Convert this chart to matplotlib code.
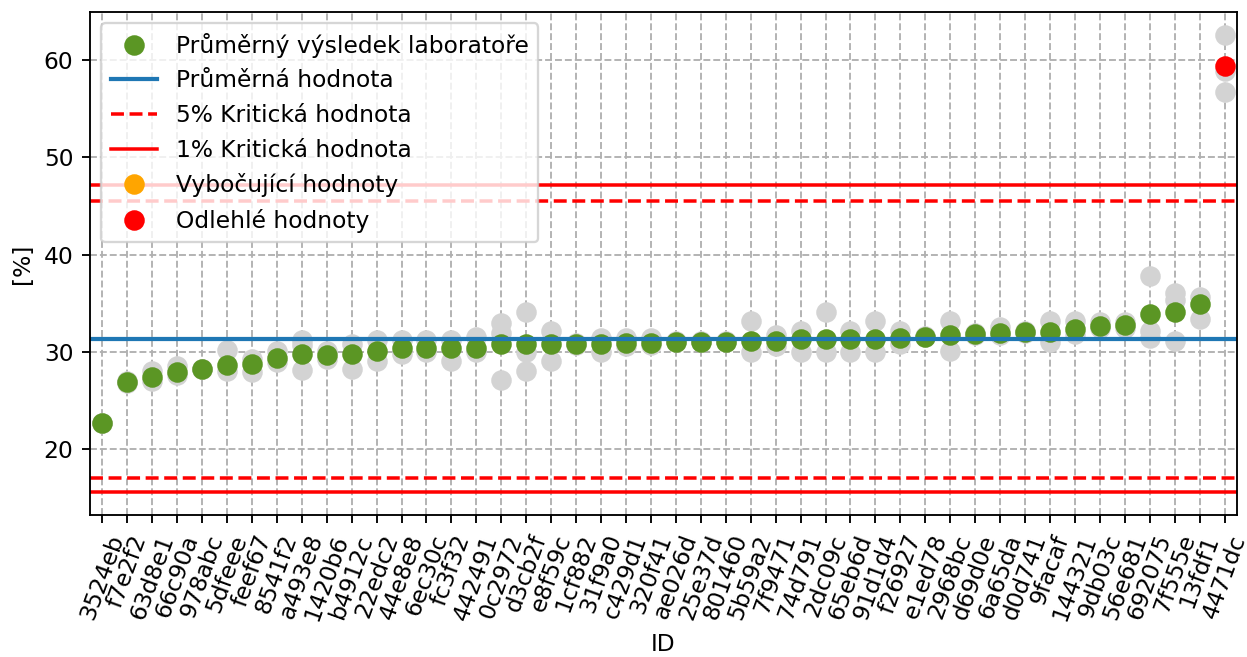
import matplotlib
matplotlib.use('Agg')
import matplotlib.pyplot as plt

ids = ['3524eb', 'f7e2f2', '63d8e1', '66c90a', '978abc', '5dfeee', 'feef67', '8541f2',
       'a493e8', '1420b6', 'b4912c', '22edc2', '44e8e8', '6ec30c', 'fc3f32', '442491',
       '0c2972', 'd3cb2f', 'e8f59c', '1cf882', '31f9a0', 'c429d1', '320f41', 'ae026d',
       '25e37d', '801460', '5b59a2', '7f9471', '74d791', '2dc09c', '65eb6d', '91d1d4',
       'f26927', 'e1ed78', '2968bc', 'd69d0e', '6a65da', 'd0d741', '9facaf', '144321',
       '9db03c', '56e681', '692075', '7f555e', '13fdf1', '4471dc']

# laboratory means
means = [22.7, 26.9, 27.4, 28.0, 28.3, 28.7, 28.8, 29.4, 29.8, 29.7, 29.8, 30.1,
         30.4, 30.4, 30.4, 30.4, 30.8, 30.8, 30.8, 30.8, 30.8, 30.9, 30.9, 31.0,
         31.0, 31.0, 31.1, 31.1, 31.3, 31.3, 31.3, 31.3, 31.4, 31.5, 31.7, 31.9,
         32.0, 32.1, 32.1, 32.4, 32.7, 32.8, 33.9, 34.1, 34.9, 59.4]

# individual results
results = [[22.7, 22.7], [26.8, 27.0], [28.1, 27.0], [28.6, 27.6], [28.3, 28.3],
           [30.2, 28.1], [29.3, 27.9], [30.1, 29.0], [31.2, 30.7, 28.2], [30.1, 29.3],
           [30.8, 28.3], [31.2, 29.1], [31.2, 29.8], [31.2, 30.0], [31.2, 29.1],
           [31.5, 30.0], [33.0, 32.0, 27.1], [34.1, 30.0, 28.1], [32.2, 29.1],
           [30.9, 30.7], [31.4, 30.0], [31.4, 30.6], [31.4, 30.7], [31.1, 31.0],
           [31.1, 31.0], [31.1, 31.0], [33.2, 30.0], [31.7, 30.6], [32.2, 30.0],
           [34.1, 30.0], [32.2, 30.0], [33.2, 30.0], [32.2, 30.8], [31.6, 31.5],
           [33.2, 30.1], [32.0, 31.7], [32.6, 31.7], [32.2, 32.0], [33.2, 31.0],
           [33.2, 31.9], [33.1, 32.5], [33.1, 32.5], [37.8, 32.2, 31.4],
           [36.1, 35.3, 31.1], [35.7, 33.4], [62.6, 58.9, 56.7]]

outliers = ['4471dc']
mean_value = 31.3
crit5 = [17.1, 45.5]
crit1 = [15.6, 47.2]

dpi = 168
fig, ax = plt.subplots(figsize=(1247 / dpi, 657 / dpi), dpi=dpi)
fig.subplots_adjust(left=0.072, right=0.992, top=0.982, bottom=0.216)

for i, vals in enumerate(results):
    ax.plot([i] * len(vals), vals, 'o', color='lightgrey', ms=7.8)

normal = [i for i, n in enumerate(ids) if n not in outliers]
odd = [i for i, n in enumerate(ids) if n in outliers]
ax.plot(normal, [means[i] for i in normal], 'o', color='#5b9624', ms=7.8,
        label='Průměrný výsledek laboratoře')

ax.axhline(mean_value, color='tab:blue', lw=1.8, label='Průměrná hodnota')
ax.axhline(crit5[0], color='red', lw=1.5, ls='--', label='5% Kritická hodnota')
ax.axhline(crit5[1], color='red', lw=1.5, ls='--')
ax.axhline(crit1[0], color='red', lw=1.5, label='1% Kritická hodnota')
ax.axhline(crit1[1], color='red', lw=1.5)

ax.plot([], [], 'o', color='orange', ms=7.8, label='Vybočující hodnoty')
ax.plot(odd, [means[i] for i in odd], 'o', color='red', ms=7.8, label='Odlehlé hodnoty')

ax.set_xticks(range(len(ids)))
ax.set_xticklabels(ids, rotation=70)
ax.set_xlim(-0.5, len(ids) - 0.5)
ax.set_ylim(13.25, 64.95)
ax.set_xlabel('ID')
ax.set_ylabel('[%]')
ax.grid(True, linestyle='--', color='#b0b0b0')
ax.legend(loc='upper left')

fig.savefig('out.png', dpi=dpi)
